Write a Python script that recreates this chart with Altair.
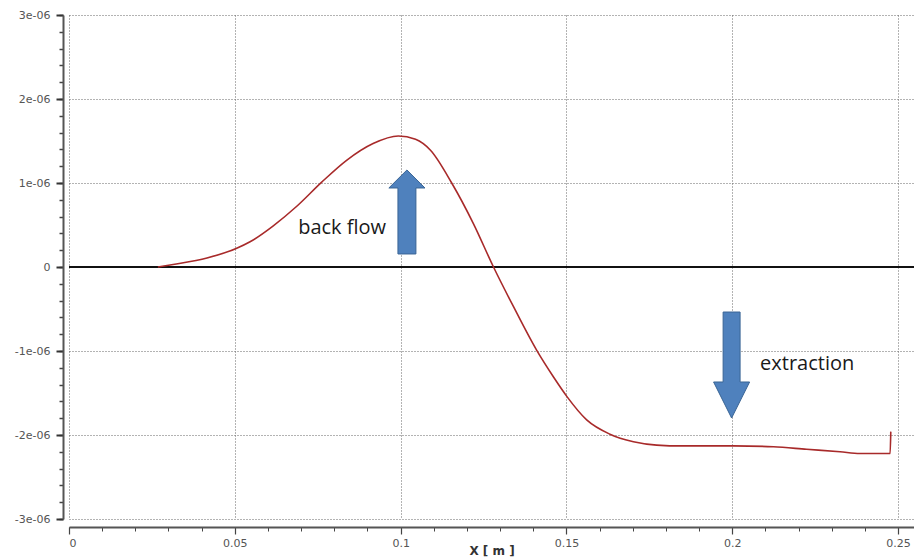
import altair as alt
import pandas as pd

# ---- data ----
x_m = [0.0268, 0.0314, 0.0416, 0.0504, 0.0546, 0.0616, 0.0686, 0.0762, 0.0837,
       0.0917, 0.0993, 0.1045, 0.1090, 0.1154, 0.1219, 0.1280, 0.1340, 0.1410,
       0.1461, 0.1501, 0.1561, 0.1631, 0.1702, 0.1772, 0.1850,
       0.2003, 0.2124, 0.2224, 0.2325, 0.2385, 0.2476, 0.2478]
flow = [0.0, 0.03e-6, 0.107e-6, 0.22e-6, 0.30e-6, 0.49e-6, 0.72e-6, 1.01e-6, 1.27e-6,
        1.47e-6, 1.56e-6, 1.52e-6, 1.39e-6, 1.00e-6, 0.52e-6, 0.0, -0.47e-6, -0.99e-6,
        -1.31e-6, -1.54e-6, -1.82e-6, -1.99e-6, -2.08e-6, -2.12e-6, -2.13e-6,
        -2.13e-6, -2.14e-6, -2.17e-6, -2.20e-6, -2.22e-6, -2.22e-6, -1.96e-6]

x_major = [0, 0.05, 0.1, 0.15, 0.2, 0.25]
x_minor = [i / 100 for i in range(0, 26)]
y_major = [-3e-6, -2e-6, -1e-6, 0, 1e-6, 2e-6, 3e-6]
y_minor = [i * 0.2e-6 for i in range(-15, 16)]
y_tick_labels = ["-3e-06", "-2e-06", "-1e-06", "0", "1e-06", "2e-06", "3e-06"]

annot_text = ["back flow", "extraction"]
annot_x = [0.0691, 0.2084]
annot_y = [0.464e-6, -1.155e-6]

arrow_x = [0.1019, 0.1998]
arrow_y = [0.655e-6, -1.167e-6]

# ---- tables ----
curve = pd.DataFrame({"x": x_m, "y": flow})
texts = pd.DataFrame({"x": annot_x, "y": annot_y, "t": annot_text})
up = pd.DataFrame({"x": [arrow_x[0]], "y": [arrow_y[0]]})
down = pd.DataFrame({"x": [arrow_x[1]], "y": [arrow_y[1]]})
zero = pd.DataFrame({"y": [0.0]})

X_DOMAIN = [0, 0.2548]
Y_DOMAIN = [-3e-6, 3e-6]

label_arr = "[" + ",".join("'%s'" % s for s in y_tick_labels) + "]"
y_label_expr = label_arr + "[round(datum.value*1e6)+3]"

xs = alt.Scale(domain=X_DOMAIN, nice=False, zero=False)
ys = alt.Scale(domain=Y_DOMAIN, nice=False, zero=False)

x_axis_major = alt.Axis(values=x_major, format=".2~f", orient="bottom", offset=8,
                        grid=True, gridColor="#666", gridDash=[1, 2], gridWidth=1,
                        domainColor="#555", domainWidth=2, tickColor="#444", tickSize=7,
                        tickWidth=1.2, labelColor="#555", labelFont="DejaVu Sans",
                        labelFontSize=11, labelPadding=3, title="X [ m ]",
                        titleFont="DejaVu Sans", titleFontSize=12, titleColor="#333",
                        titleFontWeight="bold", titleY=23, titleBaseline="middle")
y_axis_major = alt.Axis(values=y_major, labelExpr=y_label_expr, orient="left", offset=6,
                        grid=True, gridColor="#666", gridDash=[1, 2], gridWidth=1,
                        domainColor="#555", domainWidth=2, tickColor="#333", tickSize=7,
                        tickWidth=2, labelColor="#555", labelFont="DejaVu Sans",
                        labelFontSize=11, labelPadding=6, title=None)

x_axis_minor = alt.Axis(values=x_minor, orient="bottom", offset=8, grid=False, domain=False,
                        labels=False, tickColor="#444", tickSize=4, tickWidth=1, title=None)
y_axis_minor = alt.Axis(values=y_minor, orient="left", offset=6, grid=False, domain=False,
                        labels=False, tickColor="#444", tickSize=4, tickWidth=1.5, title=None)

minor_layer = alt.Chart(curve).mark_point(opacity=0).encode(
    x=alt.X("x:Q", scale=xs, axis=x_axis_minor),
    y=alt.Y("y:Q", scale=ys, axis=y_axis_minor),
)

zero_line = alt.Chart(zero).mark_rule(color="#111", strokeWidth=2).encode(
    y=alt.Y("y:Q", scale=ys, axis=None),
)

line = alt.Chart(curve).mark_line(color="#a82a2a", strokeWidth=1.6,
                                  interpolate="monotone").encode(
    x=alt.X("x:Q", scale=xs, axis=x_axis_major),
    y=alt.Y("y:Q", scale=ys, axis=y_axis_major),
)

up_path = "M-0.214,1 L0.214,1 L0.214,-0.571 L0.43,-0.571 L0,-1 L-0.43,-0.571 L-0.214,-0.571 Z"
down_path = "M-0.16,-1 L0.16,-1 L0.16,0.32 L0.34,0.32 L0,1 L-0.34,0.32 L-0.16,0.32 Z"

up_arrow = alt.Chart(up).mark_point(shape=up_path, size=84 * 84, filled=True,
                                    fill="#4f81bd", stroke="#3a6595", strokeWidth=1,
                                    opacity=1).encode(
    x=alt.X("x:Q", scale=xs, axis=None), y=alt.Y("y:Q", scale=ys, axis=None))
down_arrow = alt.Chart(down).mark_point(shape=down_path, size=106 * 106, filled=True,
                                        fill="#4f81bd", stroke="#3a6595", strokeWidth=1,
                                        opacity=1).encode(
    x=alt.X("x:Q", scale=xs, axis=None), y=alt.Y("y:Q", scale=ys, axis=None))

labels = alt.Chart(texts).mark_text(align="left", baseline="middle", font="Open Sans",
                                    fontSize=20, color="#1a1a1a").encode(
    x=alt.X("x:Q", scale=xs, axis=None), y=alt.Y("y:Q", scale=ys, axis=None), text="t:N")

chart = alt.layer(minor_layer, zero_line, line, up_arrow, down_arrow, labels).resolve_axis(
    x="independent", y="independent"
).properties(
    width=845, height=504,
    padding={"left": 69, "top": 15, "right": 0, "bottom": 38},
    autosize=alt.AutoSizeParams(type="none"),
    background="white",
).configure_view(stroke=None)

chart.save("out.html", embed_options={"renderer": "svg", "actions": False})
